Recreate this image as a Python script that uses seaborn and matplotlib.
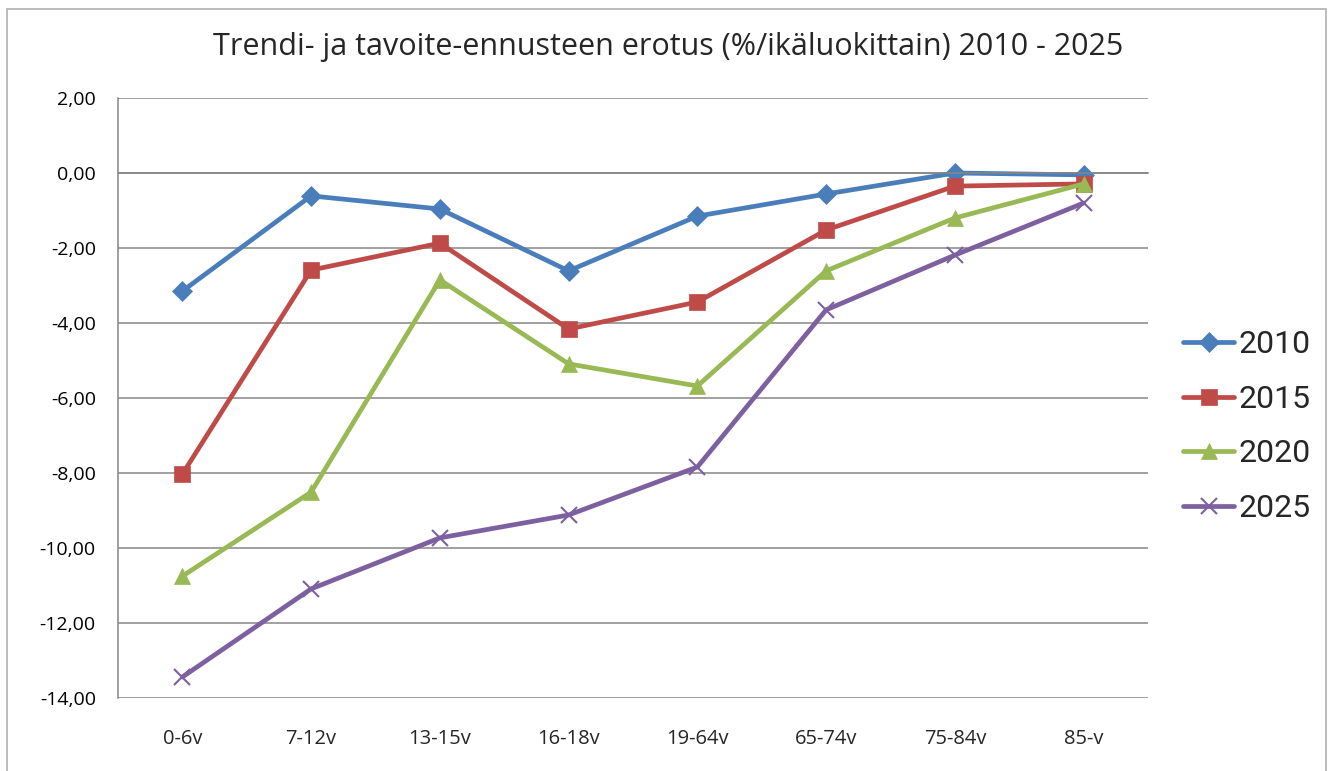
import numpy as np
import seaborn as sns
import matplotlib.pyplot as plt
from matplotlib.patches import Rectangle
from matplotlib.ticker import FuncFormatter

age_groups = ["0-6v", "7-12v", "13-15v", "16-18v", "19-64v", "65-74v", "75-84v", "85-v"]
years = ["2010", "2015", "2020", "2025"]
diff_2010 = [-3.15, -0.61, -0.96, -2.61, -1.15, -0.56, 0.0, -0.05]
diff_2015 = [-8.03, -2.59, -1.87, -4.16, -3.44, -1.52, -0.35, -0.29]
diff_2020 = [-10.75, -8.51, -2.85, -5.09, -5.68, -2.61, -1.20, -0.29]
diff_2025 = [-13.44, -11.09, -9.73, -9.12, -7.84, -3.65, -2.19, -0.80]

series = [diff_2010, diff_2015, diff_2020, diff_2025]
colors = ["#4A7EBB", "#BE4B48", "#98B954", "#7D60A0"]
markers = ["D", "s", "^", "x"]
msizes = [10, 12, 12, 12]

sns.set_theme(style="white")
plt.rcParams["font.family"] = ["Open Sans", "DejaVu Sans"]

fig = plt.figure(figsize=(13.31, 7.71), dpi=100)
ax = fig.add_axes([118 / 1331, 1 - 698 / 771, (1148 - 118) / 1331, 600 / 771])

for yr, vals, c, m, ms in zip(years, series, colors, markers, msizes):
    sns.lineplot(x=age_groups, y=vals, ax=ax, color=c, marker=m, markersize=ms,
                 markeredgecolor=c, markeredgewidth=1.5 if m == "x" else 0.5,
                 linewidth=3.4, label=yr)

grid_c = "#868686"
ax.set_xlim(-0.5, 7.5)
ax.set_ylim(-14, 2)
ax.set_yticks(np.arange(-14, 2.1, 2))
ax.yaxis.set_major_formatter(FuncFormatter(lambda v, p: f"{v:.2f}".replace(".", ",")))
ax.grid(axis="y", color=grid_c, linewidth=1.1)
ax.set_axisbelow(True)
for s in ["top", "right"]:
    ax.spines[s].set_visible(False)
ax.spines["left"].set_color(grid_c)
ax.spines["left"].set_linewidth(1.1)
ax.spines["bottom"].set_color(grid_c)
ax.spines["bottom"].set_linewidth(1.1)
ax.spines["bottom"].set_position(("data", 0))
ax.set_xticks(np.arange(-0.5, 8, 1))
ax.tick_params(axis="x", length=6, width=1.1, color=grid_c, direction="out", labelbottom=False)
ax.tick_params(axis="y", length=6, width=1.1, color=grid_c, direction="out", pad=10,
               labelsize=14, labelcolor="black")
ax.set_xlabel("")
ax.set_ylabel("")

sec = ax.secondary_xaxis(0)
sec.set_xticks(range(len(age_groups)), labels=age_groups)
sec.tick_params(length=0, pad=22, labelsize=14.5)
sec.spines["bottom"].set_visible(False)

ax.legend_.remove()
handles, labels = ax.get_legend_handles_labels()
fig.legend(handles, labels, loc="center left", bbox_to_anchor=(1183 / 1331, 1 - 426.5 / 771),
           frameon=False, prop={"family": "Roboto", "size": 23}, labelspacing=0.8,
           handlelength=1.6, handletextpad=0.15, borderpad=0, borderaxespad=0)

fig.text(668 / 1331, 1 - 47 / 771, "Trendi- ja tavoite-ennusteen erotus (%/ikäluokittain) 2010 - 2025",
         ha="center", va="center", fontsize=22)

fig.patches.append(Rectangle((7 / 1331, -0.05), (1326 - 7) / 1331, 1.05 - 9 / 771,
                             transform=fig.transFigure, fill=False, edgecolor="#b0b0b0", linewidth=1.2))

fig.savefig("out.png", dpi=100)
